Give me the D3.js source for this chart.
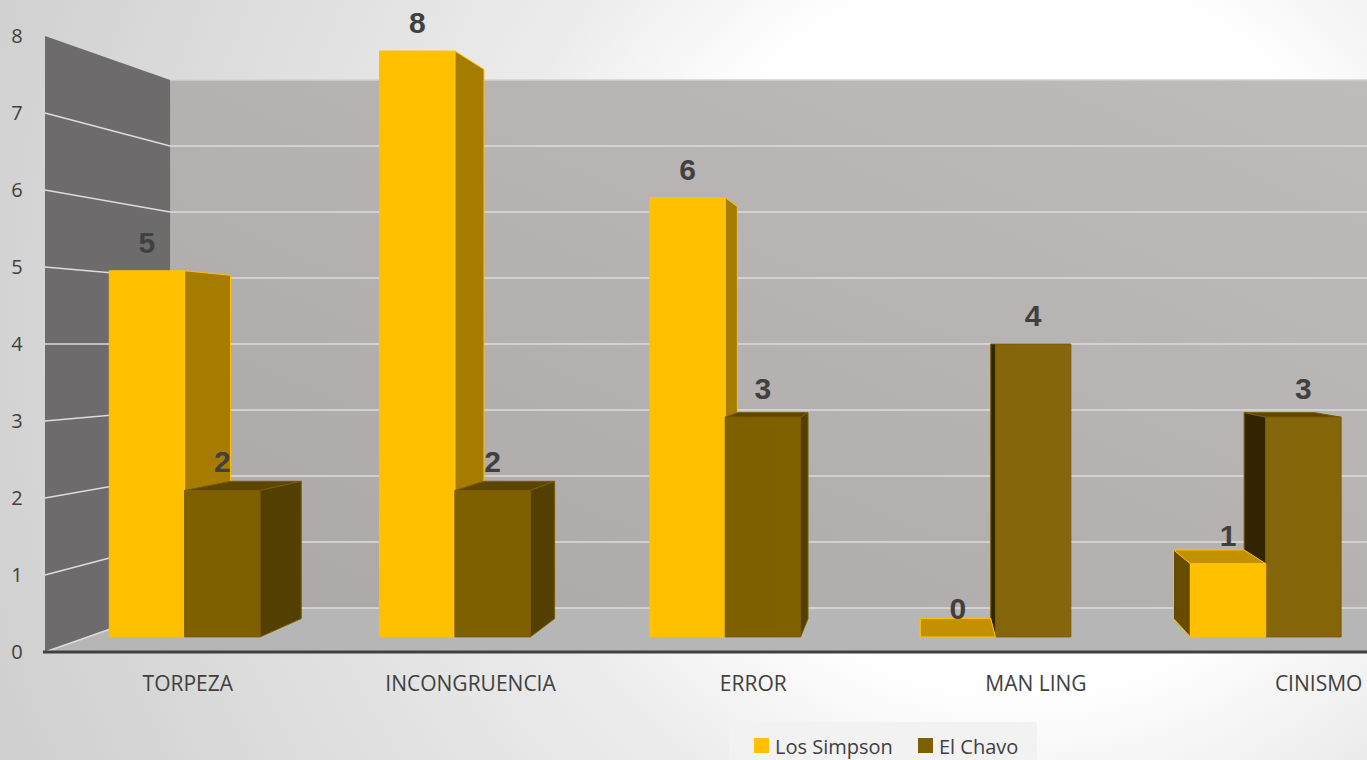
<!DOCTYPE html>
<html>
<head>
<meta charset="utf-8">
<script src="https://cdn.jsdelivr.net/npm/d3@7"></script>
<style>
  html, body { margin: 0; padding: 0; overflow: hidden; }
  svg { display: block; }
</style>
</head>
<body>
<svg id="chart" width="1367" height="760"></svg>
<script>
// ---- data ----
const categories = ["TORPEZA", "INCONGRUENCIA", "ERROR", "MAN LING", "CINISMO"];
const seriesNames = ["Los Simpson", "El Chavo"];
const losSimpson = [5, 8, 6, 0, 1];
const elChavo = [2, 2, 3, 4, 3];
const valueTicks = [0, 1, 2, 3, 4, 5, 6, 7, 8];

// ---- layout ----
const W = 1367, H = 760;
const vp = { x: 920, y: 344 };          // vanishing point of the 3D view
const wallBack = 0.857;                 // scale of the back wall relative to the front plane
const barFront = 0.951, barBack = 0.8916; // depth of the bar row
const svg = d3.select("#chart");

const y = d3.scaleLinear().domain([0, 8]).range([652, 36]);
const x = d3.scaleBand().domain(categories).range([45, 1466]);
const x1 = d3.scaleBand().domain(seriesNames).range([22.5, 181]);
const xLabel = x.copy().range([46.5, 1460]);

// project a front-plane point (X, value) to screen at depth scale s
const P = (X, v, s) => [vp.x + (X - vp.x) * s, vp.y + (y(v) - vp.y) * s];
const poly = pts => pts.map(p => p.join(",")).join(" ");

const palette = {
  "Los Simpson": { front: "#ffc000", top: "#c39100", right: "#a67c00", left: "#674c00", stroke: "#ffc000" },
  "El Chavo":    { front: "#7f6000", top: "#5c4500", right: "#533f00", left: "#312400", stroke: "#7a5c00" }
};

// ---- background ----
const defs = svg.append("defs");
const bg = defs.append("radialGradient").attr("id", "bg")
  .attr("gradientUnits", "userSpaceOnUse").attr("cx", 1020).attr("cy", 330).attr("r", 1080);
bg.append("stop").attr("offset", 0).attr("stop-color", "#ffffff");
bg.append("stop").attr("offset", 0.33).attr("stop-color", "#ffffff");
bg.append("stop").attr("offset", 0.5).attr("stop-color", "#ececec");
bg.append("stop").attr("offset", 1).attr("stop-color", "#d0d0d0");
svg.append("rect").attr("width", W).attr("height", H).attr("fill", "url(#bg)");

const wallGrad = defs.append("linearGradient").attr("id", "wall")
  .attr("x1", 0).attr("y1", 1).attr("x2", 1).attr("y2", 0);
wallGrad.append("stop").attr("offset", 0).attr("stop-color", "#aba8a7");
wallGrad.append("stop").attr("offset", 1).attr("stop-color", "#bfbbba");

// lighting across the row of dark bars
const chavoLight = defs.append("linearGradient").attr("id", "chavoFront")
  .attr("gradientUnits", "userSpaceOnUse").attr("x1", 0).attr("y1", 0).attr("x2", W).attr("y2", 0);
chavoLight.append("stop").attr("offset", 0).attr("stop-color", "#7f6000");
chavoLight.append("stop").attr("offset", 0.55).attr("stop-color", "#7f6000");
chavoLight.append("stop").attr("offset", 0.8).attr("stop-color", "#87670d");
chavoLight.append("stop").attr("offset", 1).attr("stop-color", "#856508");
palette["El Chavo"].frontFill = "url(#chavoFront)";
palette["Los Simpson"].frontFill = palette["Los Simpson"].front;

// ---- walls & floor ----
const backL = P(45, 8, wallBack)[0];
svg.append("polygon")
  .attr("points", poly([[backL, P(45, 8, wallBack)[1]], [W, P(45, 8, wallBack)[1]], [W, P(45, 0, wallBack)[1]], [backL, P(45, 0, wallBack)[1]]]))
  .attr("fill", "url(#wall)");
svg.append("polygon")
  .attr("points", poly([P(45, 8, 1), P(45, 8, wallBack), P(45, 0, wallBack), P(45, 0, 1)]))
  .attr("fill", "#6e6b6c");
svg.append("polygon")
  .attr("points", poly([P(45, 0, 1), P(45, 0, wallBack), [W, P(45, 0, wallBack)[1]], [W, y(0)]]))
  .attr("fill", "#b6b6b6");

// gridlines on side wall and back wall
const grid = svg.append("g").attr("stroke", "#dcdcdc").attr("stroke-width", 1.6).attr("fill", "none");
valueTicks.forEach(v => {
  if (v < 8) {
    const a = P(45, v, 1), b = P(45, v, wallBack);
    grid.append("line").attr("x1", a[0]).attr("y1", a[1]).attr("x2", b[0]).attr("y2", b[1]);
  }
  const b = P(45, v, wallBack);
  grid.append("line").attr("x1", b[0]).attr("y1", b[1]).attr("x2", W).attr("y2", b[1])
    .attr("stroke", v === 8 ? "#d2d2d2" : "#dcdcdc");
});

// category axis line
svg.append("line").attr("x1", 43).attr("x2", W).attr("y1", y(0)).attr("y2", y(0))
  .attr("stroke", "#404040").attr("stroke-width", 3);

// ---- value axis labels ----
const yAxis = svg.append("g").attr("transform", "translate(45,0)")
  .call(d3.axisLeft(y).tickValues(valueTicks).tickSize(0).tickFormat(d3.format("d")));
yAxis.select(".domain").remove();
yAxis.selectAll("text")
  .attr("x", -28).attr("text-anchor", "middle")
  .style("font-family", "'Open Sans', sans-serif").style("font-size", "20px").attr("fill", "#404040");

// ---- category labels ----
svg.append("g").selectAll("text").data(categories).join("text")
  .attr("x", d => xLabel(d) + xLabel.bandwidth() / 2).attr("y", 683)
  .attr("text-anchor", "middle").attr("dominant-baseline", "central")
  .style("font-family", "'Open Sans', sans-serif").style("font-size", "21px").attr("fill", "#404040")
  .text(d => d);

// ---- bars ----
const bars = [];
categories.forEach((c, i) => {
  [[seriesNames[0], losSimpson[i]], [seriesNames[1], elChavo[i]]].forEach(([s, v]) => {
    const X0 = x(c) + x1(s), X1 = X0 + x1.bandwidth();
    bars.push({ cat: c, series: s, value: v, X0, X1 });
  });
});
// paint the bars farthest from the line of sight first
bars.forEach(b => { b.dist = Math.abs((b.X0 + b.X1) / 2 - vp.x); });
bars.sort((a, b) => b.dist - a.dist);

const barG = svg.append("g");
bars.forEach(b => {
  const col = palette[b.series];
  const g = barG.append("g").attr("stroke", col.stroke).attr("stroke-width", 1).attr("stroke-linejoin", "round");
  const v = b.value;
  const fTop = P(b.X0, v, barFront)[1], bTop = P(b.X0, v, barBack)[1];
  if (fTop > bTop) {
    g.append("polygon").attr("fill", col.top)
      .attr("points", poly([P(b.X0, v, barFront), P(b.X1, v, barFront), P(b.X1, v, barBack), P(b.X0, v, barBack)]));
  }
  if (b.X1 < vp.x) {
    g.append("polygon").attr("fill", col.right)
      .attr("points", poly([P(b.X1, 0, barFront), P(b.X1, v, barFront), P(b.X1, v, barBack), P(b.X1, 0, barBack)]));
  } else if (b.X0 > vp.x) {
    g.append("polygon").attr("fill", col.left)
      .attr("points", poly([P(b.X0, 0, barFront), P(b.X0, v, barFront), P(b.X0, v, barBack), P(b.X0, 0, barBack)]));
  }
  if (v > 0) {
    g.append("polygon").attr("fill", col.frontFill)
      .attr("points", poly([P(b.X0, 0, barFront), P(b.X1, 0, barFront), P(b.X1, v, barFront), P(b.X0, v, barFront)]));
  }
});

// ---- data labels ----
svg.append("g").selectAll("text").data(bars).join("text")
  .attr("x", d => (P(d.X0, d.value, barFront)[0] + P(d.X1, d.value, barFront)[0]) / 2)
  .attr("y", d => P(d.X0, d.value, barFront)[1] - 18)
  .attr("text-anchor", "middle")
  .style("font-family", "'Liberation Sans', Arial, sans-serif").style("font-weight", "bold")
  .style("font-size", "30px").attr("fill", "#404040")
  .text(d => d.value);

// ---- legend ----
const legend = svg.append("g");
legend.append("rect").attr("x", 729).attr("y", 722).attr("width", 308).attr("height", 40).attr("fill", "#f2f2f2");
const legendItems = [
  { name: seriesNames[0], sx: 754 },
  { name: seriesNames[1], sx: 918 }
];
legendItems.forEach(it => {
  legend.append("rect").attr("x", it.sx).attr("y", 738).attr("width", 15).attr("height", 15)
    .attr("fill", palette[it.name].front);
  legend.append("text").attr("x", it.sx + 21).attr("y", 746).attr("dominant-baseline", "central")
    .style("font-family", "'Open Sans', sans-serif").style("font-size", "20px").attr("fill", "#404040")
    .text(it.name);
});
</script>
</body>
</html>
